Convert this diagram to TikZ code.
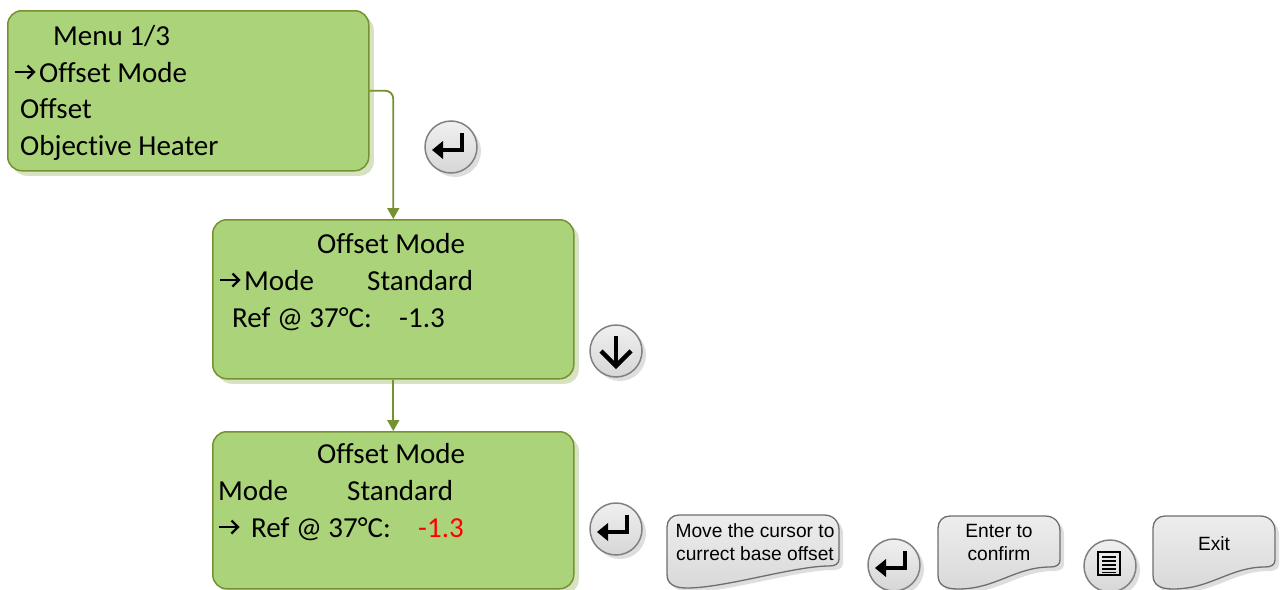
\documentclass[tikz,border=0pt]{standalone}
\usepackage{fontspec}
\setmainfont[Ligatures={NoCommon}]{Carlito}
\newfontfamily\arialf{Liberation Sans}
\usetikzlibrary{shadows,arrows.meta,calc}
\definecolor{gfill}{RGB}{171,211,122}
\definecolor{gline}{RGB}{118,146,48}
\definecolor{gshadow}{RGB}{214,226,194}
\definecolor{btnline}{RGB}{128,128,128}
\definecolor{btnshadow}{RGB}{222,222,222}
\definecolor{calline}{RGB}{110,110,110}
\definecolor{redtxt}{RGB}{255,0,0}
\tikzset{
  greenbox/.style={draw=gline, line width=1.5pt, fill=gfill, rounded corners=14pt,
    minimum width=361pt, minimum height=160pt, anchor=north west, inner sep=0pt,
    drop shadow={shadow xshift=5pt, shadow yshift=-5pt, fill=gshadow, opacity=1}},
  conn/.style={draw=gline, line width=1.8pt, -{Triangle[length=11pt,width=12pt]}, rounded corners=8pt},
  btn/.style={circle, draw=btnline, line width=1.5pt, top color=gray!12, bottom color=gray!32,
    minimum size=52pt, inner sep=0pt,
    drop shadow={shadow xshift=4pt, shadow yshift=-4pt, fill=btnshadow, opacity=1}},
  gtxt/.style={anchor=base west, inner sep=0pt, font=\fontsize{29}{35}\selectfont},
  ctxt/.style={anchor=base, inner sep=0pt, font=\arialf\fontsize{19.2}{23}\selectfont},
  entericon/.pic={
    \draw[line width=4pt, line join=miter] (11,-14) -- (11,3) -- (-9,3);
    \fill (-19,3) -- (-8,-6) -- (-8,12) -- cycle;
  },
  downicon/.pic={
    \draw[line width=4.5pt] (0,-15) -- (0,12);
    \draw[line width=4.5pt, line join=miter] (-15,0) -- (0,15) -- (15,0);
  },
  menuicon/.pic={
    \draw[line width=2pt] (-11,-12) rectangle (11,11);
    \foreach \yy in {-7,-3,1,5,8.5} {\draw[line width=1.6pt] (-7,\yy) -- (7,\yy);}
  },
  txtarrow/.pic={
    \draw[line width=2.2pt, line cap=butt] (0,0) -- (18.5,0);
    \draw[line width=2.2pt, line join=miter] (12.5,-6.5) -- (19,0) -- (12.5,6.5);
  }
}
\newcommand\docshape[3]{%
  \begin{scope}[shift={(#1,#2)}]
    \fill[btnshadow] (4,16) .. controls (4,9) and (9,4) .. (16,4) -- (#3-11,4) .. controls (#3-2,4) and (#3+4,10) .. (#3+4,19) -- (#3+4,48) .. controls (#3+4,53) and (#3,55) .. (#3-6,55) .. controls (#3-41,55) and (62,77) .. (24,77) .. controls (11,77) and (4,73) .. (4,63) -- cycle;
    \draw[draw=calline, line width=1.3pt, top color=gray!14, bottom color=gray!30]
      (0,12) .. controls (0,5) and (5,0) .. (12,0) -- (#3-15,0) .. controls (#3-6,0) and (#3,6) .. (#3,15)
      -- (#3,44) .. controls (#3,49) and (#3-4,51) .. (#3-10,51)
      .. controls (#3-45,51) and (58,73) .. (20,73) .. controls (7,73) and (0,69) .. (0,59) -- cycle;
  \end{scope}}
\begin{document}
\begin{tikzpicture}[x=1pt,y=-1pt]
\useasboundingbox (0,0) rectangle (1282,589);
% green boxes
\node[greenbox] (b1) at (7,10) {};
\node[greenbox, minimum height=159pt] (b2) at (212,219) {};
\node[greenbox, minimum height=157pt] (b3) at (212,431) {};
% connectors
\draw[conn] (b1.east) -| (b2.north);
\draw[conn] (b2.south) -- (b3.north);
% box 1 text
\node[gtxt] (t11) at (53,45) {Menu 1/3};
\pic at (15,72) {txtarrow};
\node[gtxt] (t12) at (39,82) {Offset Mode};
\node[gtxt] (t13) at (20,118.5) {Offset};
\node[gtxt] (t14) at (20,155) {Objective Heater};
% box 2 text
\node[gtxt] (t21) at (317,253) {Offset Mode};
\pic at (220,280) {txtarrow};
\node[gtxt] (t22) at (244,290) {Mode};
\node[gtxt] (t23) at (367,290) {Standard};
\node[gtxt] (t24) at (232,327) {Ref @ 37°C:};
\node[gtxt] (t25) at (399,327) {-1.3};
% box 3 text
\node[gtxt] (t31) at (317,463) {Offset Mode};
\node[gtxt] (t32) at (218,500) {Mode};
\node[gtxt] (t33) at (347,500) {Standard};
\pic at (219,527) {txtarrow};
\node[gtxt] (t34) at (251,537) {Ref @ 37°C:};
\node[gtxt, text=redtxt] (t35) at (418,537) {-1.3};
% buttons
\node[btn] (e1) at (451,147) {};
\pic at (e1) {entericon};
\node[btn] (d1) at (616,351) {};
\pic at (d1) {downicon};
\node[btn] (e2) at (616,529) {};
\pic at (e2) {entericon};
\node[btn] (e3) at (894,565) {};
\pic at (e3) {entericon};
\node[btn] (m1) at (1110,566) {};
\pic at ($(m1)+(-1,-2)$) {menuicon};
% callouts
\docshape{667}{515}{172}
\node[ctxt] (c1a) at (755,537) {Move the cursor to};
\node[ctxt] (c1b) at (755,560) {currect base offset};
\docshape{938}{516}{122}
\node[ctxt] (c2a) at (999,537) {Enter to};
\node[ctxt] (c2b) at (999,560) {confirm};
\docshape{1153}{516}{122}
\node[ctxt] (c3a) at (1214,550) {Exit};
\end{tikzpicture}
\end{document}
